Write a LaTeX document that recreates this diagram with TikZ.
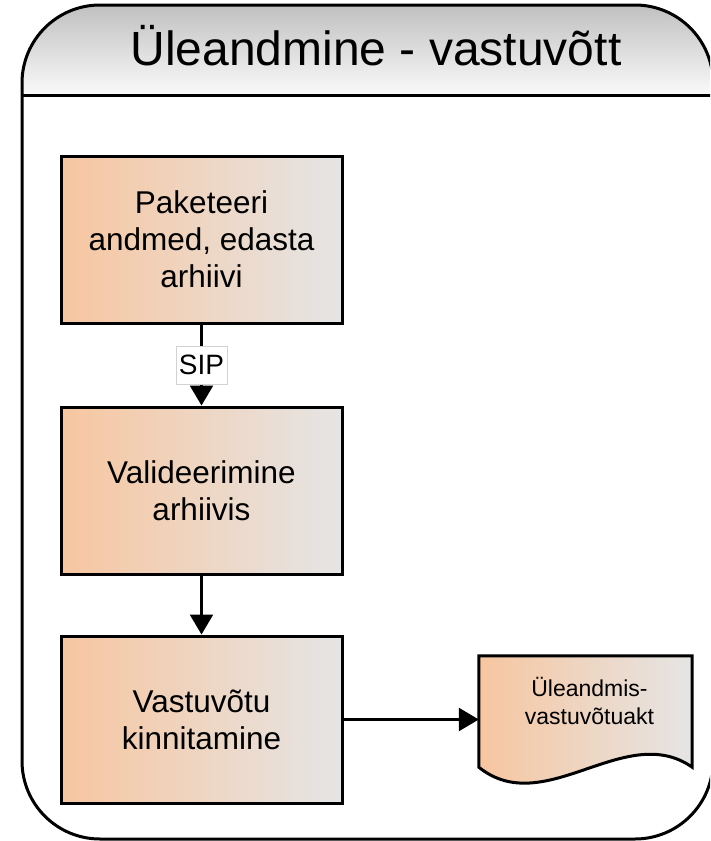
\documentclass[tikz,border=0pt]{standalone}
\usepackage{fontspec}
\setmainfont{Liberation Sans}
\usetikzlibrary{arrows.meta,calc}
\definecolor{peach}{RGB}{247,198,160}
\definecolor{boxgrey}{RGB}{229,229,229}
\definecolor{titletop}{RGB}{192,192,192}
\definecolor{titlebot}{RGB}{250,250,250}
\begin{document}
\begin{tikzpicture}[x=1pt,y=-1pt,
  procbox/.style={draw, line width=3pt, left color=peach, right color=boxgrey,
    minimum width=281pt, minimum height=167pt, align=center,
    font=\fontsize{31.5}{37}\selectfont, inner sep=0pt},
  arr/.style={line width=2.5pt, -{Triangle[length=20pt,width=23pt]}},
  siplabel/.style={draw=gray!35, line width=0.8pt, fill=white,
    font=\fontsize{28}{28}\selectfont, minimum width=51pt, minimum height=38pt, inner sep=0pt},
  frame/.style={line width=3pt}
]
\useasboundingbox (0,0) rectangle (710,841);
\clip (0,0) rectangle (710,841);
% container outline path
\def\framepath{(22,761) -- (22,83) arc[start angle=180,end angle=90,radius=78pt]
  -- (635,5) arc[start angle=90,end angle=0,radius=78pt]
  -- (713,761) arc[start angle=0,end angle=-90,radius=78pt]
  -- (100,839) arc[start angle=270,end angle=180,radius=78pt] -- cycle}
\begin{scope}
  \clip \framepath;
  \shade[top color=titletop, bottom color=titlebot] (22,5) rectangle (713,95);
\end{scope}
\draw[frame] \framepath;
\draw[frame] (22,95) -- (713,95);
\node[font=\fontsize{48}{56}\selectfont, anchor=base, inner sep=0pt] (title) at (376,65) {Üleandmine - vastuvõtt};
% process boxes
\node[procbox] (b1) at (201.5,239.5) {Paketeeri\\andmed, edasta\\arhiivi};
\node[procbox] (b2) at (201.5,490.5) {Valideerimine\\arhiivis};
\node[procbox] (b3) at (201.5,719.5) {Vastuvõtu\\kinnitamine};
% document
\node[minimum width=213pt, minimum height=111pt, inner sep=0pt] (doc) at (585.5,711.5) {};
\shadedraw[line width=3pt, left color=peach, right color=boxgrey]
  (doc.north west) -- (doc.north east) -- (doc.south east)
  .. controls ($(doc.south east)+(-67,-47)$) and ($(doc.south west)+(66,53)$) .. (doc.south west) -- cycle;
\node[font=\fontsize{23}{28}\selectfont, align=center, inner sep=0pt] (doctext) at ($(doc.center)+(4,-11)$) {Üleandmis-\\vastuvõtuakt};
% connectors
\draw[arr] (b1.south) -- node[siplabel] (sip) {SIP} (b2.north);
\draw[arr] (b2.south) -- (b3.north);
\draw[arr] (b3.east) -- (b3.east -| doc.west);
\end{tikzpicture}
\end{document}
